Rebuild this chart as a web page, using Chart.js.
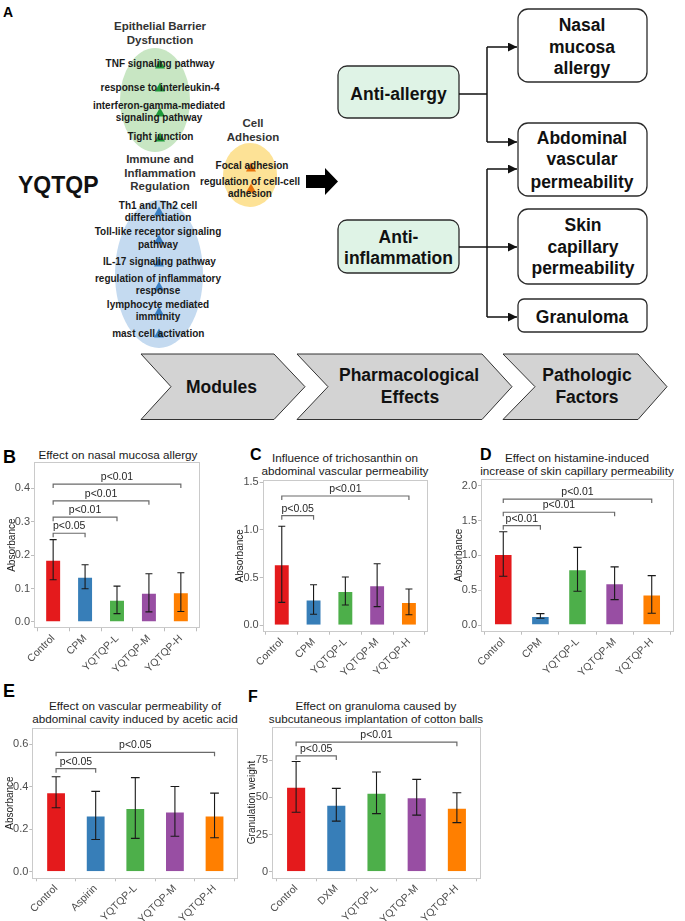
<!DOCTYPE html>
<html>
<head>
<meta charset="utf-8">
<script src="https://cdn.jsdelivr.net/npm/chart.js@4.4.1/dist/chart.umd.min.js"></script>
<style>
  body { margin: 0; background: #fff; }
  #page { position: relative; width: 685px; height: 921px; overflow: hidden; font-family: "Liberation Sans", Arial, sans-serif; }
  #page svg, #page canvas { position: absolute; }
</style>
</head>
<body>
<div id="page">
<svg width="685" height="921" style="left:0;top:0" font-family="Liberation Sans, Arial, sans-serif">
  <defs>
    <marker id="ah" markerUnits="userSpaceOnUse" markerWidth="9" markerHeight="9" refX="9" refY="4.5" orient="auto">
      <path d="M0,0 L9,4.5 L0,9 z" fill="#111"/>
    </marker>
  </defs>
  <!-- panel A -->
  <text x="3" y="16.7" font-size="14" font-weight="bold">A</text>
  <text x="18" y="193.2" font-size="23" font-weight="bold" fill="#111">YQTQP</text>

  <ellipse cx="155" cy="100" rx="35" ry="52" fill="#c8e6c3"/>
  <ellipse cx="159" cy="274" rx="44" ry="74" fill="#c4daf0"/>
  <ellipse cx="250" cy="175" rx="27" ry="32" fill="#fde296"/>

  <g fill="#1f9a3b">
    <path d="M-5,4.5 L5,4.5 L0,-4.5Z" transform="translate(160,64)"/>
    <path d="M-5,4.5 L5,4.5 L0,-4.5Z" transform="translate(160,87)"/>
    <path d="M-5,4.5 L5,4.5 L0,-4.5Z" transform="translate(160,112)"/>
    <path d="M-5,4.5 L5,4.5 L0,-4.5Z" transform="translate(160,137)"/>
  </g>
  <g fill="#3a7fc3">
    <path d="M-5,4.5 L5,4.5 L0,-4.5Z" transform="translate(159,211)"/>
    <path d="M-5,4.5 L5,4.5 L0,-4.5Z" transform="translate(159,239)"/>
    <path d="M-5,4.5 L5,4.5 L0,-4.5Z" transform="translate(159,262)"/>
    <path d="M-5,4.5 L5,4.5 L0,-4.5Z" transform="translate(159,286)"/>
    <path d="M-5,4.5 L5,4.5 L0,-4.5Z" transform="translate(159,311)"/>
    <path d="M-5,4.5 L5,4.5 L0,-4.5Z" transform="translate(159,333)"/>
  </g>
  <g fill="#e8730c">
    <path d="M-5,4.5 L5,4.5 L0,-4.5Z" transform="translate(251,167)"/>
    <path d="M-5,4.5 L5,4.5 L0,-4.5Z" transform="translate(251,188)"/>
  </g>

  <g font-size="11.5" font-weight="bold" fill="#333" text-anchor="middle">
    <text x="160" y="30">Epithelial Barrier</text>
    <text x="160" y="44">Dysfunction</text>
    <text x="160" y="162.7">Immune and</text>
    <text x="160" y="176.7">Inflammation</text>
    <text x="160" y="190">Regulation</text>
    <text x="253" y="127">Cell</text>
    <text x="253" y="141.3">Adhesion</text>
  </g>
  <g font-size="10" font-weight="bold" fill="#1a1a1a" text-anchor="middle">
    <text x="160" y="66.5">TNF signaling pathway</text>
    <text x="160" y="90.8">response to interleukin-4</text>
    <text x="159" y="108.5">interferon-gamma-mediated</text>
    <text x="159" y="120.5">signaling pathway</text>
    <text x="160.5" y="140.2">Tight junction</text>
    <text x="158" y="209.2">Th1 and Th2 cell</text>
    <text x="158" y="220.8">differentiation</text>
    <text x="158" y="235.2">Toll-like receptor signaling</text>
    <text x="158" y="247.5">pathway</text>
    <text x="159.5" y="264.5">IL-17 signaling pathway</text>
    <text x="158" y="281.8">regulation of inflammatory</text>
    <text x="158" y="294.2">response</text>
    <text x="158" y="307.8">lymphocyte mediated</text>
    <text x="158" y="319.5">immunity</text>
    <text x="158.3" y="336.8">mast cell activation</text>
    <text x="252" y="169.2">Focal adhesion</text>
    <text x="250" y="185.2">regulation of cell-cell</text>
    <text x="250" y="196.8">adhesion</text>
  </g>

  <path d="M306,175 L325,175 L325,168 L338,181.5 L325,195 L325,188 L306,188 Z" fill="#000"/>

  <g stroke="#2b2b2b" stroke-width="1.3">
    <rect x="338" y="66" width="121" height="52" rx="9" fill="#dff3e6"/>
    <rect x="338" y="220" width="121" height="53" rx="9" fill="#dff3e6"/>
    <rect x="518" y="9" width="129" height="73" rx="10" fill="#fff"/>
    <rect x="518" y="123" width="129" height="73" rx="10" fill="#fff"/>
    <rect x="518" y="209" width="129" height="75" rx="10" fill="#fff"/>
    <rect x="518" y="299" width="129" height="33" rx="6" fill="#fff"/>
  </g>
  <g stroke="#111" stroke-width="1.5" fill="none">
    <path d="M459,94 H487"/>
    <path d="M487,47 V142"/>
    <path d="M487,47 H517" marker-end="url(#ah)"/>
    <path d="M487,142 H517" marker-end="url(#ah)"/>
    <path d="M459,247 H517" marker-end="url(#ah)"/>
    <path d="M487,169 V317"/>
    <path d="M487,169 H517" marker-end="url(#ah)"/>
    <path d="M487,317 H517" marker-end="url(#ah)"/>
  </g>
  <g font-size="17.5" font-weight="bold" fill="#111" text-anchor="middle">
    <text x="398.5" y="100.4">Anti-allergy</text>
    <text x="398.5" y="242.8">Anti-</text>
    <text x="398.5" y="263.8">inflammation</text>
    <text x="582" y="31.1">Nasal</text>
    <text x="582" y="52.8">mucosa</text>
    <text x="582" y="74.4">allergy</text>
    <text x="582" y="143.8">Abdominal</text>
    <text x="582" y="165.4">vascular</text>
    <text x="582" y="187.8">permeability</text>
    <text x="583" y="231.1">Skin</text>
    <text x="583" y="252.8">capillary</text>
    <text x="583" y="274.4">permeability</text>
    <text x="582" y="322.8">Granuloma</text>
  </g>

  <g fill="#d3d3d3" stroke="#333" stroke-width="1">
    <path d="M141,354 L274,354 L305,386.7 L274,419.5 L141,419.5 L171,386.7 Z"/>
    <path d="M297,354 L482,354 L512,386.7 L482,419.5 L297,419.5 L328,386.7 Z"/>
    <path d="M503,354 L638,354 L667,386.7 L638,419.5 L503,419.5 L535,386.7 Z"/>
  </g>
  <g font-size="17.5" font-weight="bold" fill="#111" text-anchor="middle">
    <text x="221.5" y="393">Modules</text>
    <text x="409" y="381">Pharmacological</text>
    <text x="410" y="402.8">Effects</text>
    <text x="587" y="381">Pathologic</text>
    <text x="587" y="403">Factors</text>
  </g>

  <!-- panel letters and titles for B-F -->
  <g font-weight="bold" fill="#000">
    <text x="3" y="463.3" font-size="18">B</text>
    <text x="250" y="460" font-size="16">C</text>
    <text x="480" y="460" font-size="16">D</text>
    <text x="3" y="696.7" font-size="18">E</text>
    <text x="248" y="701.7" font-size="16">F</text>
  </g>
  <g font-size="11.7" fill="#1a1a1a" text-anchor="middle">
    <text x="118" y="459">Effect on nasal mucosa allergy</text>
    <text x="345" y="462">Influence of trichosanthin on</text>
    <text x="345" y="475.3">abdominal vascular permeability</text>
    <text x="577" y="462">Effect on histamine-induced</text>
    <text x="577" y="475.3">increase of skin capillary permeability</text>
    <text x="135" y="710">Effect on vascular permeability of</text>
    <text x="135" y="723.3">abdominal cavity induced by acetic acid</text>
    <text x="376" y="710">Effect on granuloma caused by</text>
    <text x="376" y="723.3">subcutaneous implantation of cotton balls</text>
  </g>
</svg>

<canvas id="chartB" width="215" height="225" style="left:0px;top:450px"></canvas>
<canvas id="chartC" width="217" height="205" style="left:226px;top:470px"></canvas>
<canvas id="chartD" width="238" height="205" style="left:447px;top:470px"></canvas>
<canvas id="chartE" width="245" height="206" style="left:0px;top:715px"></canvas>
<canvas id="chartF" width="250" height="206" style="left:242px;top:715px"></canvas>
</div>

<script>
// group colours (Set1)
const barColors = ['#E41A1C', '#377EB8', '#4DAF4A', '#984EA3', '#FF7F00'];

// B: nasal mucosa allergy
const groupsB = ['Control', 'CPM', 'YQTQP-L', 'YQTQP-M', 'YQTQP-H'];
const meanB = [0.186, 0.135, 0.066, 0.087, 0.089];
const sdB = [0.060, 0.036, 0.041, 0.057, 0.058];
const yTicksB = ['0.0', '0.1', '0.2', '0.3', '0.4'];
const sigB = [
  { from: 0, to: 1, at: 0.265, text: 'p<0.05' },
  { from: 0, to: 2, at: 0.313, text: 'p<0.01' },
  { from: 0, to: 3, at: 0.362, text: 'p<0.01' },
  { from: 0, to: 4, at: 0.412, text: 'p<0.01' }
];

// C: abdominal vascular permeability (trichosanthin)
const groupsC = ['Control', 'CPM', 'YQTQP-L', 'YQTQP-M', 'YQTQP-H'];
const meanC = [0.64, 0.27, 0.36, 0.42, 0.245];
const sdC = [0.40, 0.155, 0.147, 0.225, 0.135];
const yTicksC = ['0.0', '0.5', '1.0', '1.5'];
const sigC = [
  { from: 0, to: 1, at: 1.15, text: 'p<0.05' },
  { from: 0, to: 4, at: 1.357, text: 'p<0.01' }
];

// D: skin capillary permeability
const groupsD = ['Control', 'CPM', 'YQTQP-L', 'YQTQP-M', 'YQTQP-H'];
const meanD = [1.02, 0.13, 0.80, 0.60, 0.44];
const sdD = [0.32, 0.033, 0.315, 0.235, 0.27];
const yTicksD = ['0.0', '0.5', '1.0', '1.5', '2.0'];
const sigD = [
  { from: 0, to: 1, at: 1.427, text: 'p<0.01' },
  { from: 0, to: 3, at: 1.62, text: 'p<0.01' },
  { from: 0, to: 4, at: 1.81, text: 'p<0.01' }
];

// E: acetic acid induced vascular permeability
const groupsE = ['Control', 'Aspirin', 'YQTQP-L', 'YQTQP-M', 'YQTQP-H'];
const meanE = [0.374, 0.265, 0.30, 0.284, 0.265];
const sdE = [0.073, 0.113, 0.143, 0.117, 0.105];
const yTicksE = ['0.0', '0.2', '0.4', '0.6'];
const sigE = [
  { from: 0, to: 1, at: 0.485, text: 'p<0.05' },
  { from: 0, to: 4, at: 0.562, text: 'p<0.05' }
];

// F: cotton ball granuloma
const groupsF = ['Control', 'DXM', 'YQTQP-L', 'YQTQP-M', 'YQTQP-H'];
const meanF = [57, 45, 53, 50, 43];
const sdF = [17, 11, 14, 12, 10];
const yTicksF = ['0', '25', '50', '75'];
const sigF = [
  { from: 0, to: 1, at: 77.8, text: 'p<0.05' },
  { from: 0, to: 4, at: 87, text: 'p<0.01' }
];

Chart.defaults.font.family = '"Liberation Sans", Arial, sans-serif';

// grey panel border
const frame = {
  id: 'frame',
  beforeDatasetsDraw(chart) {
    const { ctx, chartArea: a } = chart;
    ctx.save();
    ctx.strokeStyle = '#cacaca';
    ctx.lineWidth = 1;
    ctx.strokeRect(Math.round(a.left) + 0.5, Math.round(a.top) + 0.5,
                   Math.round(a.width) - 1, Math.round(a.height) - 1);
    ctx.restore();
  }
};

// mean +/- sd whiskers
const errorBars = {
  id: 'errorBars',
  afterDatasetsDraw(chart, args, opts) {
    const { ctx, scales: { x, y } } = chart;
    ctx.save();
    ctx.strokeStyle = '#1a1a1a';
    ctx.lineWidth = 1.1;
    chart.data.datasets[0].data.forEach((p, i) => {
      const e = opts.sd[i];
      const xc = x.getPixelForValue(p.x);
      const half = x.getPixelForValue(p.x + opts.cap / 2) - xc;
      const yt = y.getPixelForValue(p.y + e);
      const yb = y.getPixelForValue(p.y - e);
      ctx.beginPath();
      ctx.moveTo(xc, yt); ctx.lineTo(xc, yb);
      ctx.moveTo(xc - half, yt); ctx.lineTo(xc + half, yt);
      ctx.moveTo(xc - half, yb); ctx.lineTo(xc + half, yb);
      ctx.stroke();
    });
    ctx.restore();
  }
};

// significance brackets
const brackets = {
  id: 'brackets',
  afterDatasetsDraw(chart, args, opts) {
    const { ctx, scales: { x, y } } = chart;
    ctx.save();
    ctx.strokeStyle = '#6a6a6a';
    ctx.lineWidth = 1.2;
    ctx.fillStyle = '#262626';
    ctx.font = '10.5px "Liberation Sans", Arial, sans-serif';
    ctx.textAlign = 'center';
    ctx.textBaseline = 'bottom';
    opts.items.forEach(b => {
      const x1 = x.getPixelForValue(b.from + 1);
      const x2 = x.getPixelForValue(b.to + 1);
      const yy = y.getPixelForValue(b.at);
      ctx.beginPath();
      ctx.moveTo(x1, yy + 4); ctx.lineTo(x1, yy);
      ctx.lineTo(x2, yy); ctx.lineTo(x2, yy + 4);
      ctx.stroke();
      ctx.fillText(b.text, (x1 + x2) / 2, yy - 1.5);
    });
    ctx.restore();
  }
};

function drawPanel(id, groups, means, sd, yTicks, sig, yTitle, box) {
  const tickVals = yTicks.map(Number);
  const axisGrid = { display: true, drawOnChartArea: false, drawTicks: true, tickLength: 3, color: '#bdbdbd' };
  new Chart(document.getElementById(id), {
    type: 'bar',
    data: {
      datasets: [{
        data: means.map((m, i) => ({ x: i + 1, y: m })),
        backgroundColor: barColors,
        borderColor: 'rgba(255,255,255,0.45)',
        borderWidth: 1,
        barPercentage: 0.5,
        categoryPercentage: 1
      }]
    },
    options: {
      responsive: false,
      animation: false,
      events: [],
      layout: { padding: { top: box.pt, right: box.pr, left: 0, bottom: 0 } },
      plugins: {
        legend: { display: false },
        tooltip: { enabled: false },
        errorBars: { sd: sd, cap: 0.22 },
        brackets: { items: sig }
      },
      scales: {
        x: {
          type: 'linear', min: 0.4, max: 5.6, offset: false,
          afterBuildTicks: s => { s.ticks = groups.map((g, i) => ({ value: i + 1 })); },
          afterFit: s => { s.height = box.xh; },
          grid: axisGrid,
          border: { display: false },
          ticks: {
            autoSkip: false, minRotation: 45, maxRotation: 45, padding: 1,
            color: '#4d4d4d', font: { size: 10.5 },
            callback: (v, i) => groups[i]
          }
        },
        y: {
          min: box.ymin, max: box.ymax,
          afterBuildTicks: s => { s.ticks = tickVals.map(v => ({ value: v })); },
          afterFit: s => { s.width = box.yw; },
          grid: axisGrid,
          border: { display: false },
          title: { display: true, text: yTitle, color: '#1a1a1a', font: { size: 10 }, padding: { top: box.tp, bottom: 0 } },
          ticks: {
            padding: 1, color: '#4d4d4d', font: { size: 11 },
            callback: (v, i) => yTicks[i]
          }
        }
      }
    },
    plugins: [frame, errorBars, brackets]
  });
}

drawPanel('chartB', groupsB, meanB, sdB, yTicksB, sigB, 'Absorbance',
  { pt: 12, pr: 15, yw: 34, xh: 46.7, ymin: -0.019, ymax: 0.478, tp: 6.3 });
drawPanel('chartC', groupsC, meanC, sdC, yTicksC, sigC, 'Absorbance',
  { pt: 10, pr: 15, yw: 36.7, xh: 43.3, ymin: -0.068, ymax: 1.525, tp: 8 });
drawPanel('chartD', groupsD, meanD, sdD, yTicksD, sigD, 'Absorbance',
  { pt: 9, pr: 11, yw: 34, xh: 43.3, ymin: -0.096, ymax: 2.098, tp: 6 });
drawPanel('chartE', groupsE, meanE, sdE, yTicksE, sigE, 'Absorbance',
  { pt: 12.7, pr: 6.7, yw: 32.3, xh: 42.7, ymin: -0.031, ymax: 0.678, tp: 4.7 });
drawPanel('chartF', groupsF, meanF, sdF, yTicksF, sigF, 'Granulation weight',
  { pt: 11.7, pr: 11, yw: 30, xh: 42.7, ymin: -4.4, ymax: 97.4, tp: 4.7 });
</script>
</body>
</html>
